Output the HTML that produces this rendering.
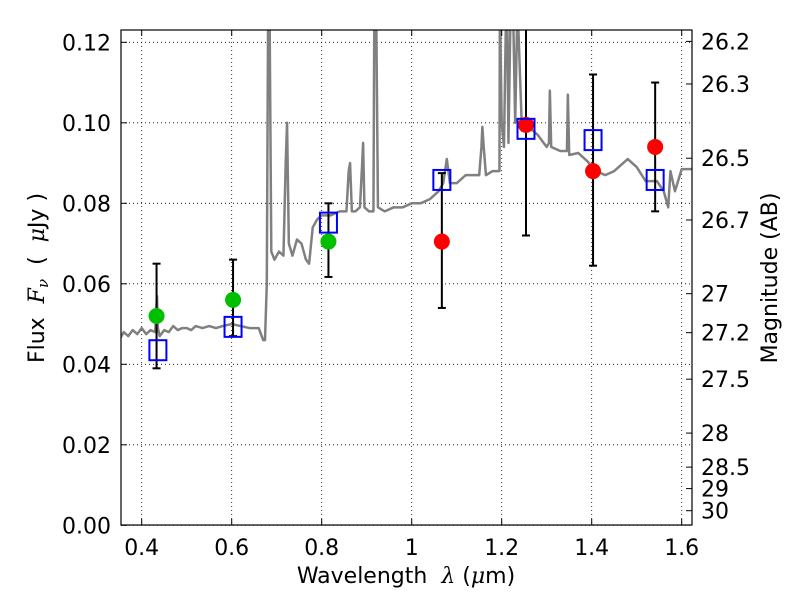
<!DOCTYPE html>
<html><head><meta charset="utf-8"><style>
body{margin:0;background:#fff;}
svg{display:block;font-family:"DejaVu Sans","Liberation Sans",sans-serif;}
text{white-space:pre;}
</style></head><body>
<svg id="chart" width="800" height="600" viewBox="0 0 800 600" xmlns="http://www.w3.org/2000/svg">
<rect x="0" y="0" width="800" height="600" fill="#fff"/>
<defs><clipPath id="plotclip"><rect x="121" y="30" width="571" height="495"/></clipPath></defs>
<g id="grid"></g>
<g id="spec" clip-path="url(#plotclip)"></g>
<g id="marks"></g>
<g id="axes"></g>
<text x="406" y="583" font-size="22" text-anchor="middle" xml:space="preserve">Wavelength  <tspan font-style="italic" font-family="DejaVu Serif">λ</tspan> (<tspan font-style="italic" font-family="DejaVu Serif">μ</tspan>m)</text>
<text transform="translate(44,278) rotate(-90)" font-size="22" text-anchor="middle" xml:space="preserve">Flux  <tspan font-style="italic" font-family="DejaVu Serif">F<tspan font-size="15" dy="4">ν</tspan></tspan><tspan dy="-4">  (  </tspan><tspan font-style="italic" font-family="DejaVu Serif">μ</tspan>Jy )</text>
<text transform="translate(777,278) rotate(-90)" font-size="22" text-anchor="middle">Magnitude (AB)</text>
</svg>
<script>
const xTicks=[0.4,0.6,0.8,1.0,1.2,1.4,1.6];
const xTickLabels=["0.4","0.6","0.8","1","1.2","1.4","1.6"];
const yTicks=[0,0.02,0.04,0.06,0.08,0.10,0.12];
const yTickLabels=["0.00","0.02","0.04","0.06","0.08","0.10","0.12"];
const magTicks=[26.2,26.3,26.5,26.7,27,27.2,27.5,28,28.5,29,30];
const magTickLabels=["26.2","26.3","26.5","26.7","27","27.2","27.5","28","28.5","29","30"];
const specWave=[0.35,0.36,0.37,0.38,0.39,0.40,0.41,0.42,0.43,0.434,0.436,0.44,0.45,0.46,0.47,0.48,0.49,0.5,0.51,0.52,0.535,0.55,0.565,0.58,0.6,0.62,0.64,0.66,0.67,0.674,0.678,0.681,0.684,0.688,0.695,0.705,0.715,0.72,0.723,0.727,0.735,0.745,0.755,0.765,0.772,0.78,0.79,0.8,0.82,0.84,0.855,0.86,0.863,0.867,0.875,0.885,0.89,0.892,0.895,0.905,0.915,0.917,0.919,0.921,0.925,0.94,0.96,0.98,1.0,1.02,1.04,1.06,1.07,1.078,1.085,1.1,1.12,1.14,1.15,1.155,1.157,1.16,1.165,1.18,1.195,1.196,1.2,1.205,1.21,1.212,1.215,1.22,1.225,1.23,1.235,1.245,1.26,1.28,1.3,1.305,1.307,1.31,1.33,1.345,1.347,1.35,1.37,1.39,1.41,1.43,1.45,1.48,1.50,1.52,1.545,1.56,1.57,1.575,1.585,1.6,1.62,1.64];
const specFlux=[0.046,0.048,0.047,0.0485,0.0475,0.049,0.0475,0.0485,0.048,0.057,0.049,0.047,0.0485,0.048,0.0495,0.0485,0.049,0.049,0.0485,0.0495,0.049,0.0495,0.049,0.0495,0.05,0.0495,0.049,0.049,0.046,0.046,0.06,0.13,0.13,0.068,0.066,0.068,0.067,0.09,0.1,0.07,0.067,0.071,0.07,0.066,0.065,0.074,0.076,0.077,0.077,0.078,0.078,0.088,0.09,0.078,0.078,0.079,0.09,0.095,0.079,0.078,0.078,0.13,0.13,0.13,0.079,0.078,0.079,0.079,0.08,0.08,0.081,0.083,0.085,0.091,0.085,0.085,0.087,0.087,0.087,0.094,0.099,0.094,0.087,0.088,0.088,0.13,0.1,0.094,0.13,0.13,0.095,0.13,0.13,0.1,0.13,0.098,0.099,0.097,0.094,0.095,0.108,0.094,0.093,0.093,0.107,0.092,0.0925,0.0905,0.088,0.087,0.088,0.091,0.089,0.0855,0.0855,0.083,0.079,0.088,0.083,0.0885,0.0885,0.089];
const greenWave=[0.433,0.603,0.815];
const greenFlux=[0.052,0.056,0.0705];
const greenLo=[0.039,0.047,0.0617];
const greenHi=[0.065,0.066,0.080];
const redWave=[1.067,1.254,1.403,1.541];
const redFlux=[0.0705,0.0995,0.088,0.094];
const redLo=[0.054,0.072,0.0645,0.078];
const redHi=[0.0875,0.13,0.112,0.11];
const modelWave=[0.436,0.603,0.815,1.067,1.254,1.403,1.541];
const modelFlux=[0.0435,0.0493,0.0752,0.0858,0.0985,0.0957,0.0858];

const L=121,R=692,T=30,B=525;
const X=w=>411.7+(w-1.0)*450;
const Y=f=>525.3-f*4025;
const NS="http://www.w3.org/2000/svg";
function mk(tag,attrs,parent){const e=document.createElementNS(NS,tag);for(const k in attrs)e.setAttribute(k,attrs[k]);parent.appendChild(e);return e;}
const grid=document.getElementById('grid'),axes=document.getElementById('axes'),spec=document.getElementById('spec'),marks=document.getElementById('marks');
xTicks.forEach((t,i)=>{const x=X(t);
 const g=mk('line',{x1:x,x2:x,y1:T,y2:B,stroke:'#000','stroke-width':0.8,'stroke-dasharray':'1,3'},grid);
 
 
 mk('line',{x1:x,x2:x,y1:B,y2:B-6,stroke:'#000'},axes);
 mk('line',{x1:x,x2:x,y1:T,y2:T+6,stroke:'#000'},axes);
 const tx=mk('text',{x:x,y:B+30,'font-size':22,'text-anchor':'middle'},axes);tx.textContent=xTickLabels[i];
 
 
});
yTicks.forEach((t,i)=>{const y=Y(t);
 const g=mk('line',{x1:L,x2:R,y1:y,y2:y,stroke:'#000','stroke-width':0.8,'stroke-dasharray':'1,3'},grid);
 
 
 mk('line',{x1:L,x2:L+6,y1:y,y2:y,stroke:'#000'},axes);
 const tx=mk('text',{x:L-10,y:y+8,'font-size':22,'text-anchor':'end'},axes);tx.textContent=yTickLabels[i];
 
 
});
magTicks.forEach((m,i)=>{const y=Y(Math.pow(10,(23.9-m)/2.5));
 mk('line',{x1:R,x2:R-6,y1:y,y2:y,stroke:'#000'},axes);
 const tx=mk('text',{x:R+9,y:y+8,'font-size':22},axes);tx.textContent=magTickLabels[i];
 
 
});
const fr=mk('rect',{x:L,y:T,width:R-L,height:B-T,fill:'none',stroke:'#000','stroke-width':1.2},axes);


const sp=mk('polyline',{points:specWave.map((w,i)=>X(w)+','+Y(specFlux[i])).join(' '),fill:'none',stroke:'#808080','stroke-width':2.5,'stroke-linejoin':'round'},spec);


function errbar(w,lo,hi){const x=X(w);const y1=Math.max(Y(hi),T),y2=Y(lo);
 const e=mk('line',{x1:x,x2:x,y1:y1,y2:y2,stroke:'#000','stroke-width':2},marks);
 
 
 if(Y(hi)>=T)mk('line',{x1:x-4,x2:x+4,y1:y1,y2:y1,stroke:'#000','stroke-width':2},marks);
 mk('line',{x1:x-4,x2:x+4,y1:y2,y2:y2,stroke:'#000','stroke-width':2},marks);}
greenWave.forEach((w,i)=>errbar(w,greenLo[i],greenHi[i]));
redWave.forEach((w,i)=>errbar(w,redLo[i],redHi[i]));
greenWave.forEach((w,i)=>{const c=mk('circle',{cx:X(w),cy:Y(greenFlux[i]),r:8,fill:'#00bf00'},marks);
 
 });
redWave.forEach((w,i)=>{const c=mk('circle',{cx:X(w),cy:Y(redFlux[i]),r:8,fill:'#ff0000'},marks);
 
 });
modelWave.forEach((w,i)=>{const s=mk('rect',{x:X(w)-8.5,y:Y(modelFlux[i])-10,width:17,height:20,fill:'none',stroke:'#0000ff','stroke-width':2},marks);
 
 });
</script>
</body></html>
